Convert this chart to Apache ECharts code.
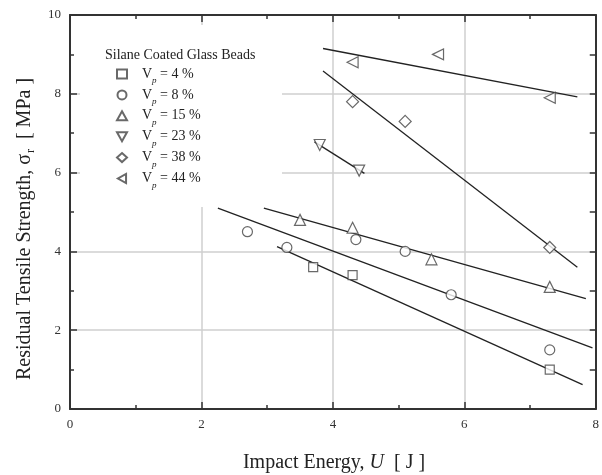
<!DOCTYPE html>
<html><head><meta charset="utf-8">
<script src="https://cdn.jsdelivr.net/npm/echarts@6/dist/echarts.min.js"></script>
<style>html,body{margin:0;padding:0;background:#fff}#chart{width:602px;height:475px}</style>
</head><body><div id="chart"></div>
<script>
// Residual tensile strength after impact, silane coated glass beads
const fractions = ['4', '8', '15', '23', '38', '44'];          // V_p in %
const symbols   = ['rect', 'circle', 'triangle', 'triangle', 'diamond', 'triangle'];
const rotations = [0, 0, 0, 180, 0, 90];
const symSizes  = [9, 10, 11, 11, 12, 11];
// legend icons (down / left triangles drawn as paths so they keep their orientation)
const legendIcons = ['rect', 'circle', 'triangle',
  'path://M0,0L10,0L5,9Z', 'diamond', 'path://M9,0L9,10L0,5Z'];

// measured points [U (J), sigma_r (MPa)]
const vp4  = [[3.7, 3.6], [4.3, 3.4], [7.3, 1.0]];
const vp8  = [[2.7, 4.5], [3.3, 4.1], [4.35, 4.3], [5.1, 4.0], [5.8, 2.9], [7.3, 1.5]];
const vp15 = [[3.5, 4.8], [4.3, 4.6], [5.5, 3.8], [7.3, 3.1]];
const vp23 = [[3.8, 6.7], [4.4, 6.05]];
const vp38 = [[4.3, 7.8], [5.1, 7.3], [7.3, 4.1]];
const vp44 = [[4.3, 8.8], [5.6, 9.0], [7.3, 7.9]];

// linear fits, end points
const fit4  = [[3.15, 4.12], [7.8, 0.62]];
const fit8  = [[2.25, 5.1], [7.95, 1.55]];
const fit15 = [[2.95, 5.1], [7.85, 2.8]];
const fit23 = [[3.72, 6.78], [4.48, 5.98]];
const fit38 = [[3.85, 8.58], [7.72, 3.6]];
const fit44 = [[3.85, 9.15], [7.72, 7.92]];

const xTickLabels = ['0', '2', '4', '6', '8'];
const yTickLabels = ['0', '2', '4', '6', '8', '10'];

const points = [vp4, vp8, vp15, vp23, vp38, vp44];
const fits = [fit4, fit8, fit15, fit23, fit38, fit44];

const FONT = '"Liberation Serif", "DejaVu Serif", serif';
const INK = '#333';
const GRID = '#cfcfcf';

const chart = echarts.init(document.getElementById('chart'));

const axisCommon = {
  type: 'value',
  axisLine: { show: true, onZero: false, lineStyle: { color: INK, width: 2 } },
  axisTick: { show: true, inside: true, length: 7, lineStyle: { color: INK, width: 1.5 } },
  minorTick: { show: true, splitNumber: 2, length: 4, lineStyle: { color: INK, width: 1.5 } },
  minorSplitLine: { show: false }
};

const series = [];
fits.forEach(f => {
  series.push({
    type: 'line', data: f, symbol: 'none', silent: true, z: 2,
    lineStyle: { color: '#222', width: 1.3 }
  });
});
points.forEach((p, i) => {
  series.push({
    name: fractions[i], type: 'scatter', data: p, z: 3,
    symbol: symbols[i], symbolSize: symSizes[i], symbolRotate: rotations[i],
    itemStyle: { color: '#fff', borderColor: '#444', borderWidth: 1.2 }
  });
});

chart.setOption({
  animation: false,
  backgroundColor: '#fff',
  grid: { left: 70, right: 6, top: 15, bottom: 66 },
  title: {
    text: 'Silane Coated Glass Beads', left: 100, top: 43,
    textStyle: { fontFamily: FONT, fontSize: 14, fontWeight: 'normal', color: '#222' }
  },
  legend: {
    data: fractions.map((f, i) => ({ name: f, icon: legendIcons[i] })),
    orient: 'vertical', left: 111, top: 62,
    itemWidth: 10, itemHeight: 9, itemGap: 2.4,
    formatter: n => `{v|V}{p|p}{t| = ${n} %}`,
    textStyle: {
      fontFamily: FONT, color: '#222',
      rich: {
        v: { fontFamily: FONT, fontSize: 14, color: '#222', padding: [0, 0, 0, 10] },
        p: { fontFamily: FONT, fontSize: 9, fontStyle: 'italic', color: '#222', padding: [14, 0, 0, 0] },
        t: { fontFamily: FONT, fontSize: 14, color: '#222' }
      }
    }
  },
  xAxis: [
    Object.assign({}, axisCommon, {
      position: 'bottom', min: 0, max: 8, interval: 2,
      axisLabel: {
        fontFamily: FONT, fontSize: 13, color: '#333', margin: 9,
        formatter: v => xTickLabels[Math.round(v / 2)]
      },
      splitLine: { show: true, lineStyle: { color: GRID, width: 1.5 } }
    }),
    Object.assign({}, axisCommon, {
      position: 'top', min: 0, max: 8, interval: 2,
      axisLabel: { show: false }, splitLine: { show: false }
    })
  ],
  yAxis: [
    Object.assign({}, axisCommon, {
      position: 'left', min: 0, max: 10, interval: 2,
      axisLabel: {
        fontFamily: FONT, fontSize: 13, color: '#333', margin: 9,
        formatter: v => yTickLabels[Math.round(v / 2)]
      },
      splitLine: { show: true, lineStyle: { color: GRID, width: 1.5 } }
    }),
    Object.assign({}, axisCommon, {
      position: 'right', min: 0, max: 10, interval: 1,
      axisTick: { show: true, inside: true, length: 6, lineStyle: { color: INK, width: 1.5 } },
      minorTick: { show: false },
      axisLabel: { show: false }, splitLine: { show: false }
    })
  ],
  graphic: [
    // white backing behind the legend block
    { type: 'rect', z: 1, silent: true,
      shape: { x: 80, y: 25, width: 202, height: 182 },
      style: { fill: '#fff' } },
    { type: 'text', z: 5, x: 334, y: 463,
      style: {
        text: '{a|Impact Energy, }{u|U}{a|  [ J ]}',
        align: 'center', verticalAlign: 'middle',
        rich: {
          a: { fontFamily: FONT, fontSize: 20, fill: '#222' },
          u: { fontFamily: FONT, fontSize: 20, fontStyle: 'italic', fill: '#222' }
        }
      } },
    { type: 'text', z: 5, x: 25, y: 229, rotation: Math.PI / 2,
      style: {
        text: '{a|Residual Tensile Strength, σ}{r|r}{a|  [ MPa ]}',
        align: 'center', verticalAlign: 'middle',
        rich: {
          a: { fontFamily: FONT, fontSize: 20, fill: '#222' },
          r: { fontFamily: FONT, fontSize: 12, fill: '#222', padding: [12, 0, 0, 1] }
        }
      } }
  ],
  series: series
});
</script>
</body></html>
